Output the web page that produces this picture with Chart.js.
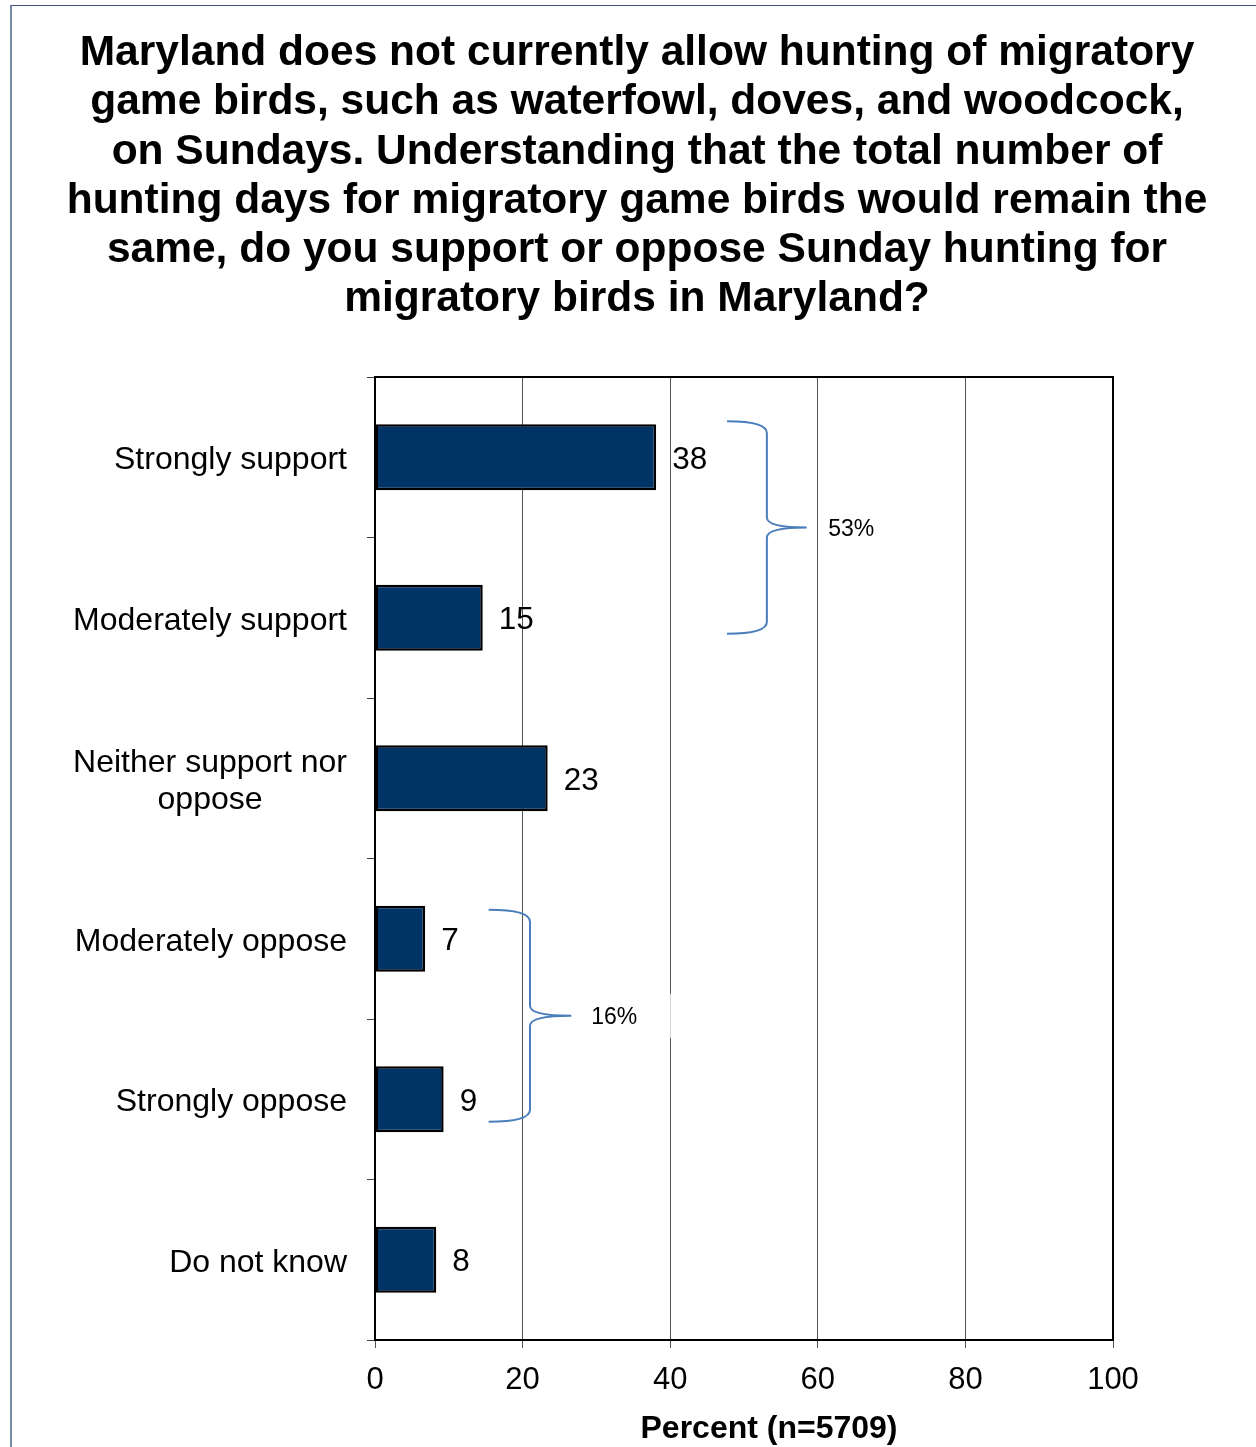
<!DOCTYPE html>
<html>
<head>
<meta charset="utf-8">
<script src="https://cdn.jsdelivr.net/npm/chart.js@4.4.1/dist/chart.umd.min.js"></script>
<style>
  html, body { margin: 0; padding: 0; background: #fff; }
  body { width: 1256px; height: 1447px; position: relative; overflow: hidden; }
  #frame {
    position: absolute; left: 10px; top: 5px; width: 1400px; height: 1600px;
    border-left: 2px solid #7489a4; border-top: 1px solid #3d5276;
  }
  #title {
    position: absolute; left: 11px; top: 26px; width: 1252px;
    text-align: center; font: bold 42.5px "Liberation Sans", Arial, sans-serif;
    line-height: 49.3px; color: #000;
  }
  #chartWrap { position: absolute; left: 0; top: 0; width: 1256px; height: 1447px; }
</style>
</head>
<body>
<div id="frame"></div>
<div id="chartWrap"><canvas id="supportChart"></canvas></div>
<div id="title">Maryland does not currently allow hunting of migratory<br>game birds, such as waterfowl, doves, and woodcock,<br>on Sundays. Understanding that the total number of<br>hunting days for migratory game birds would remain the<br>same, do you support or oppose Sunday hunting for<br>migratory birds in Maryland?</div>
<script>
const categories = [
    'Strongly support',
    'Moderately support',
    ['Neither support nor', 'oppose'],
    'Moderately oppose',
    'Strongly oppose',
    'Do not know'
];
const percents = [38.1, 14.6, 23.4, 6.8, 9.3, 8.3];
const xTicks = [0, 20, 40, 60, 80, 100];
const axisTitle = 'Percent (n=5709)';
// groups of categories summed with a bracket
const supportGroup = [0, 1];
const opposeGroup = [3, 4];

const FONT = '"Liberation Sans", Arial, sans-serif';

const annotate = {
    id: 'annotate',
    afterDatasetsDraw(chart, args, opts) {
        const ctx = chart.ctx;
        const x = chart.scales.x;
        const y = chart.scales.y;
        const area = chart.chartArea;

        ctx.save();
        // value labels at bar ends
        ctx.fillStyle = '#000';
        ctx.font = '31.5px ' + FONT;
        ctx.textAlign = 'left';
        ctx.textBaseline = 'middle';
        percents.forEach((v, i) => {
            ctx.fillText(String(Math.round(v)), x.getPixelForValue(v) + 16, y.getPixelForValue(i) + 3);
        });

        // category labels (multi-line blocks centred, right aligned overall)
        ctx.font = '32px ' + FONT;
        categories.forEach((lab, i) => {
            const lines = Array.isArray(lab) ? lab : [lab];
            const w = Math.max(...lines.map(l => ctx.measureText(l).width));
            const right = area.left - 28;
            const lh = 37;
            const cy = y.getPixelForValue(i) + 3;
            lines.forEach((l, k) => {
                ctx.textAlign = 'center';
                ctx.fillText(l, right - w / 2, cy + (k - (lines.length - 1) / 2) * lh);
            });
        });

        // brackets
        opts.braces.forEach(b => {
            const total = b.group.reduce((s, i) => s + Math.round(percents[i]), 0);
            const yTop = y.getPixelForValue(b.from);
            const yBot = y.getPixelForValue(b.to);
            const yMid = (yTop + yBot) / 2;
            const x0 = x.getPixelForValue(b.tail);
            const xs = x.getPixelForValue(b.spine);
            const xt = x.getPixelForValue(b.tip);
            const xl = x.getPixelForValue(b.labelAt);

            ctx.fillStyle = '#fff';
            ctx.fillRect(xl - 9.5, yMid - 22, 89, 44);

            ctx.strokeStyle = '#4a7ebb';
            ctx.lineWidth = 2;
            ctx.beginPath();
            ctx.moveTo(x0, yTop);
            ctx.quadraticCurveTo(xs, yTop, xs, yTop + 12);
            ctx.lineTo(xs, yMid - 10);
            ctx.quadraticCurveTo(xs, yMid, xt, yMid);
            ctx.quadraticCurveTo(xs, yMid, xs, yMid + 10);
            ctx.lineTo(xs, yBot - 12);
            ctx.quadraticCurveTo(xs, yBot, x0, yBot);
            ctx.stroke();

            ctx.fillStyle = '#000';
            ctx.font = '23px ' + FONT;
            ctx.textAlign = 'left';
            ctx.fillText(total + '%', xl, yMid + 2);
        });

        // plot frame
        ctx.strokeStyle = '#000';
        ctx.lineWidth = 2;
        ctx.strokeRect(area.left, area.top, area.right - area.left, area.bottom - area.top);

        // axis title
        ctx.font = 'bold 32px ' + FONT;
        ctx.textAlign = 'center';
        ctx.fillText(axisTitle, (area.left + area.right) / 2 + 25, area.bottom + 89);
        ctx.restore();
    }
};

const ctx = document.getElementById('supportChart').getContext('2d');
new Chart(ctx, {
    type: 'bar',
    data: {
        labels: categories,
        datasets: [{
            data: percents,
            backgroundColor: '#003366',
            borderColor: '#000',
            borderWidth: 2.5,
            borderSkipped: false,
            categoryPercentage: 1,
            barPercentage: 0.41
        }]
    },
    options: {
        indexAxis: 'y',
        responsive: true,
        maintainAspectRatio: false,
        animation: false,
        layout: { padding: { top: 377, right: 143, left: 0, bottom: 0 } },
        plugins: {
            legend: { display: false },
            tooltip: { enabled: false },
            title: { display: false },
            annotate: {
                braces: [
                    { group: supportGroup, from: -0.225, to: 1.10, tail: 47.7, spine: 53.1, tip: 58.5, labelAt: 61.4 },
                    { group: opposeGroup, from: 2.82, to: 4.14, tail: 15.4, spine: 21.0, tip: 26.6, labelAt: 29.3 }
                ]
            }
        },
        scales: {
            x: {
                min: 0,
                max: 100,
                afterBuildTicks: s => { s.ticks = xTicks.map(v => ({ value: v })); },
                afterFit: s => { s.height = 107; },
                grid: { color: '#555', lineWidth: 1, tickLength: 8 },
                border: { color: '#000', width: 2 },
                ticks: { color: '#000', font: { family: FONT, size: 31 }, padding: 14, maxRotation: 0 }
            },
            y: {
                afterFit: s => { s.width = 375; },
                grid: { offset: true, drawOnChartArea: false, color: '#444', tickLength: 8 },
                border: { color: '#000', width: 2 },
                ticks: { display: false }
            }
        }
    },
    plugins: [annotate]
});
</script>
</body>
</html>
